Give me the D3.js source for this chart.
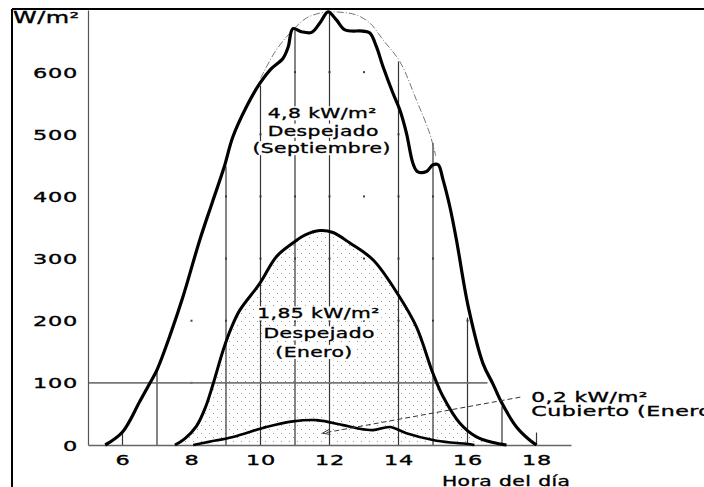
<!DOCTYPE html>
<html>
<head>
<meta charset="utf-8">
<script src="https://cdn.jsdelivr.net/npm/d3@7"></script>
<style>
  html, body { margin: 0; padding: 0; background: #fff; }
  svg { display: block; }
  text { font-family: "DejaVu Sans", Verdana, sans-serif; fill: #000; stroke: #000; stroke-width: 0.35px; }
</style>
</head>
<body>
<svg id="chart" width="704" height="487"></svg>
<script>
// Irradiance over the day (hour, W/m²)
const septHours  = [5.5, 6.0, 6.5, 6.8, 7.0, 7.4, 7.75, 8.24, 8.6, 8.94, 9.2, 9.6, 9.98, 10.3, 10.65, 10.8, 10.94, 11.19, 11.48, 11.72, 11.96, 12.2, 12.45, 12.97, 13.17, 13.36, 13.55, 13.84, 14.04, 14.23, 14.42, 14.55, 14.81, 15.0, 15.15, 15.29, 15.49, 15.68, 16.02, 16.45, 16.74, 17.0, 17.42, 17.8, 18.0];
const septValues = [0, 21, 70, 100, 121, 180, 238, 330, 390, 446, 496, 545, 582, 605, 622, 640, 670, 665, 664, 679, 697, 684, 668, 666, 663, 641, 609, 566, 539, 502, 453, 440, 440, 451, 451, 427, 383, 330, 223, 131, 98, 67, 29, 8, 0];

const envelopeHours  = [10.0, 10.46, 10.94, 11.33, 11.72, 12.0, 12.4, 12.78, 13.17, 13.55, 14.04, 14.52, 14.9, 15.08];
const envelopeValues = [590, 636, 668, 687, 695, 697, 696, 692, 679, 652, 617, 555, 502, 465];

const eneroHours  = [7.52, 7.8, 8.14, 8.4, 8.63, 8.92, 9.15, 9.4, 9.98, 10.46, 10.94, 11.3, 11.72, 12.1, 12.59, 13.26, 14.0, 14.52, 15.0, 15.29, 15.78, 16.26, 16.74, 17.13];
const eneroValues = [0, 10, 30, 60, 99, 153, 188, 217, 260, 303, 325, 338, 345, 342, 325, 298, 241, 190, 115, 78, 35, 13, 4, 0];

const cubiertoHours  = [8.05, 8.5, 9.2, 10.17, 10.94, 11.62, 12.39, 12.8, 13.26, 13.75, 14.23, 15.0, 15.5, 15.97, 16.2];
const cubiertoValues = [0, 5, 13, 29, 38, 40, 32, 27, 24, 29, 19, 8, 4, 2, 0];

// Hour drop-lines and their upper ends (W/m²)
const lineHours = [6, 7, 9, 10, 11, 12, 14, 15, 16, 17, 18];
const lineTops  = [20, 120, 448, 578, 668, 697, 617, 486, 205, 62, 20];

const xTicks = [6, 8, 10, 12, 14, 16, 18];
const yTicks = [0, 100, 200, 300, 400, 500, 600];
const gridHours = d3.range(6, 19);
const gridValues = [100, 200, 300, 400, 500, 600];

const svg = d3.select("#chart");
const x = d3.scaleLinear().domain([5, 19]).range([88, 571]);
const y = d3.scaleLinear().domain([0, 700]).range([445, 10]);

const zip = (hs, vs) => hs.map((h, i) => [h, vs[i]]);
const interp = (hs, vs, h) => {
  if (h <= hs[0] || h >= hs[hs.length - 1]) return 0;
  const i = d3.bisectRight(hs, h);
  const t = (h - hs[i - 1]) / (hs[i] - hs[i - 1]);
  return vs[i - 1] + t * (vs[i] - vs[i - 1]);
};

const line = d3.line().x(d => x(d[0])).y(d => y(d[1])).curve(d3.curveCatmullRom.alpha(0.5));
const area = d3.area().x(d => x(d[0])).y0(y(0)).y1(d => y(d[1])).curve(d3.curveCatmullRom.alpha(0.5));

// stipple fill for the January clear-sky area
const defs = svg.append("defs");
const pat = defs.append("pattern").attr("id", "stipple")
  .attr("patternUnits", "userSpaceOnUse").attr("width", 8).attr("height", 8);
pat.append("rect").attr("x", 1).attr("y", 1).attr("width", 1).attr("height", 1).attr("fill", "#999");
pat.append("rect").attr("x", 5).attr("y", 5).attr("width", 1).attr("height", 1).attr("fill", "#999");

svg.append("path").datum(zip(eneroHours, eneroValues))
  .attr("d", area).attr("fill", "url(#stipple)");

// grid dots inside the September curve
const dots = [];
gridHours.forEach(h => gridValues.forEach(v => {
  if (v < interp(septHours, septValues, h) - 8) dots.push([h, v]);
}));
svg.append("g").selectAll("rect").data(dots).join("rect")
  .attr("x", d => x(d[0]) - 1).attr("y", d => y(d[1]) - 1)
  .attr("width", 2).attr("height", 2).attr("fill", "#444");

// hour drop-lines
svg.append("g").selectAll("line").data(lineHours).join("line")
  .attr("x1", h => x(h)).attr("x2", h => x(h))
  .attr("y1", y(0)).attr("y2", (h, i) => y(lineTops[i]))
  .attr("stroke", "#333").attr("stroke-width", 1.2);

// 100 W/m² reference line
svg.append("line")
  .attr("x1", x(5)).attr("x2", x(16.58)).attr("y1", y(100)).attr("y2", y(100))
  .attr("stroke", "#777").attr("stroke-width", 1.6);

// axes
const yAxis = svg.append("g").attr("transform", `translate(${x(5)},0)`)
  .call(d3.axisLeft(y).tickValues(yTicks).tickSize(0).tickSizeOuter(0));
yAxis.select(".domain").attr("stroke", "#555").attr("stroke-width", 1.2);
yAxis.selectAll("text")
  .attr("x", null).attr("dy", "0.36em")
  .attr("transform", "translate(-10,0) scale(1.6,1)")
  .style("font-size", "14px").style("letter-spacing", "0.5px")
  .style("font-family", "'DejaVu Sans', sans-serif").attr("fill", "#000");

const xAxis = svg.append("g").attr("transform", `translate(0,${y(0)})`)
  .call(d3.axisBottom(x).tickValues(xTicks).tickSize(0).tickSizeOuter(0));
xAxis.select(".domain").attr("stroke", "#666").attr("stroke-width", 1.6);
xAxis.selectAll("text")
  .attr("y", null).attr("dy", null)
  .attr("transform", "translate(0,20) scale(1.6,1)")
  .style("font-size", "14px").style("letter-spacing", "0.5px")
  .style("font-family", "'DejaVu Sans', sans-serif").attr("fill", "#000");

// clear-sky envelope
svg.append("path").datum(zip(envelopeHours, envelopeValues))
  .attr("d", line).attr("fill", "none")
  .attr("stroke", "#666").attr("stroke-width", 0.9)
  .attr("stroke-dasharray", "7,2,1,2");

// curves
svg.append("path").datum(zip(septHours, septValues))
  .attr("d", line).attr("fill", "none").attr("stroke", "#000").attr("stroke-width", 3.2)
  .attr("stroke-linejoin", "round");
svg.append("path").datum(zip(eneroHours, eneroValues))
  .attr("d", line).attr("fill", "none").attr("stroke", "#000").attr("stroke-width", 3);
svg.append("path").datum(zip(cubiertoHours, cubiertoValues))
  .attr("d", line).attr("fill", "none").attr("stroke", "#000").attr("stroke-width", 2.6);

// text helper: wide lettering with optional white backing
function label(px, py, str, opts) {
  const o = Object.assign({ size: 14, sx: 1.45, anchor: "middle", bg: false, ls: 0.3 }, opts);
  const g = svg.append("g").attr("transform", `translate(${px},${py}) scale(${o.sx},1)`);
  const t = g.append("text").attr("text-anchor", o.anchor)
    .style("font-size", o.size + "px").style("letter-spacing", o.ls + "px").text(str);
  if (o.bg) {
    const b = t.node().getBBox();
    g.insert("rect", "text").attr("x", b.x - 1).attr("y", b.y + 1)
      .attr("width", b.width + 2).attr("height", b.height - 2).attr("fill", "#fff");
  }
  return g;
}

label(x(11.79), y(526), "4,8 kW/m²", { bg: true });
label(x(11.82), y(498), "Despejado", { bg: true });
label(x(11.77), y(470), "(Septiembre)", { bg: true });

label(x(11.68), y(204), "1,85 kW/m²", { bg: true });
label(x(11.7), y(172), "Despejado", { bg: true });
label(x(11.55), y(142), "(Enero)", { bg: true });

// overcast annotation with leader arrow
const tail = [17.53, 77], tip = [11.8, 19];
svg.append("line")
  .attr("x1", x(tail[0])).attr("y1", y(tail[1])).attr("x2", x(tip[0])).attr("y2", y(tip[1]))
  .attr("stroke", "#333").attr("stroke-width", 1).attr("stroke-dasharray", "5,3");
const ang = Math.atan2(y(tail[1]) - y(tip[1]), x(tail[0]) - x(tip[0]));
[0.35, -0.35].forEach(da => {
  svg.append("line")
    .attr("x1", x(tip[0])).attr("y1", y(tip[1]))
    .attr("x2", x(tip[0]) + 8 * Math.cos(ang + da)).attr("y2", y(tip[1]) + 8 * Math.sin(ang + da))
    .attr("stroke", "#333").attr("stroke-width", 1);
});
label(x(17.85), y(69), "0,2 kW/m²", { anchor: "start", sx: 1.55 });
label(x(17.85), y(46), "Cubierto (Enero)", { anchor: "start", sx: 1.58 });

// unit and axis title
label(13, 23, "W/m²", { anchor: "start", size: 15, sx: 1.6 });
label(x(17.12), 486, "Hora del día", { sx: 1.45 });

// outer frame
svg.append("line").attr("x1", 12).attr("x2", 12).attr("y1", 9).attr("y2", 487)
  .attr("stroke", "#000").attr("stroke-width", 2);
svg.append("line").attr("x1", 12).attr("x2", 704).attr("y1", 9).attr("y2", 9)
  .attr("stroke", "#000").attr("stroke-width", 2);
</script>
</body>
</html>
